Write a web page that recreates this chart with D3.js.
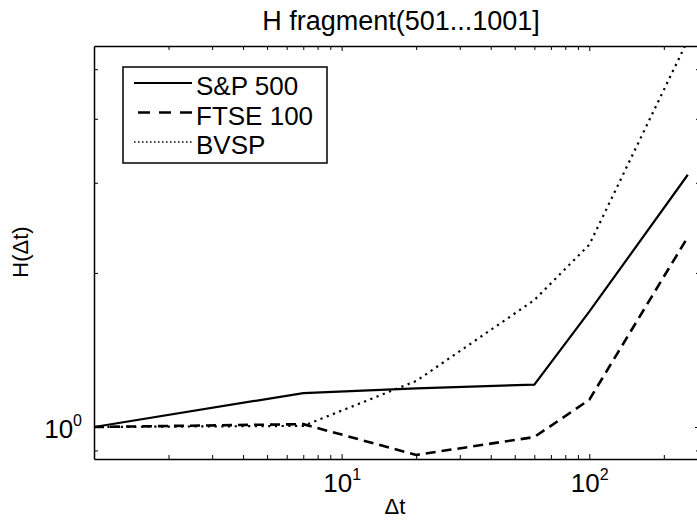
<!DOCTYPE html>
<html>
<head>
<meta charset="utf-8">
<script src="https://cdn.jsdelivr.net/npm/d3@7"></script>
<style>
  html, body { margin: 0; padding: 0; background: #fff; }
  svg { display: block; font-family: "Liberation Sans", Arial, Helvetica, sans-serif; }
</style>
</head>
<body>
<div id="chart"></div>
<script>
// lag values and Hurst-like ratio per index
const dt = [1, 7, 20, 60, 100, 250];
const sp500 = [1, 1.165, 1.19, 1.21, 1.68, 3.11];
const ftse100 = [1, 1.013, 0.882, 0.956, 1.13, 2.35];
const bvsp = [1, 1.005, 1.23, 1.77, 2.27, 5.7];
const seriesNames = ['S&P 500', 'FTSE 100', 'BVSP'];
const xTicks = [2, 3, 4, 5, 6, 7, 8, 9, 10, 20, 30, 40, 50, 60, 70, 80, 90, 100, 200];
const xLabels = { 10: '1', 100: '2' };
const yTicks = [0.9, 1, 2, 3, 4, 5];
const yLabels = { 1: '0' };
const title = 'H fragment(501...1001]';

const width = 697, height = 522;
const margin = { top: 46, right: -3, bottom: 63, left: 94 };
const innerW = width - margin.left - margin.right;
const innerH = height - margin.top - margin.bottom;

const svg = d3.select('#chart').append('svg').attr('width', width).attr('height', height);
const g = svg.append('g').attr('transform', `translate(${margin.left},${margin.top})`);

const x = d3.scaleLog().domain([1, 280]).range([0, innerW]);
const y = d3.scaleLog().domain([0.866, 5.55]).range([innerH, 0]);

g.append('clipPath').attr('id', 'clip').append('rect').attr('width', innerW).attr('height', innerH);

// series lines
const styles = [
  { data: sp500, dash: null, w: 2.2 },
  { data: ftse100, dash: '10,6', w: 2.6 },
  { data: bvsp, dash: '2.2,4.5', w: 2.2 }
];
const line = d3.line().x(d => x(d[0])).y(d => y(d[1]));
styles.forEach(s => {
  g.append('path')
    .datum(dt.map((t, i) => [t, s.data[i]]))
    .attr('clip-path', 'url(#clip)')
    .attr('fill', 'none').attr('stroke', '#000')
    .attr('stroke-width', s.w)
    .attr('stroke-dasharray', s.dash)
    .attr('d', line);
});

// axes, ticks inward on all four sides
const styleAxis = (sel, major, dir) => {
  sel.select('.domain').attr('stroke', '#000').attr('stroke-width', 1.5);
  sel.selectAll('.tick line').attr('stroke', '#000').attr('stroke-width', 1)
    .each(function (d) {
      const len = major[d] !== undefined ? 5 : 4;
      d3.select(this).attr(dir, this.getAttribute(dir) < 0 ? -len : len);
    });
  sel.selectAll('.tick text').remove();
};
const axB = g.append('g').attr('transform', `translate(0,${innerH})`)
  .call(d3.axisBottom(x).tickValues(xTicks).tickSize(-5).tickSizeOuter(0));
styleAxis(axB, xLabels, 'y2');
const axT = g.append('g')
  .call(d3.axisTop(x).tickValues(xTicks).tickSize(-5).tickSizeOuter(0));
styleAxis(axT, xLabels, 'y2');
const axL = g.append('g')
  .call(d3.axisLeft(y).tickValues(yTicks).tickSize(-5).tickSizeOuter(0));
styleAxis(axL, yLabels, 'x2');
const axR = g.append('g').attr('transform', `translate(${innerW},0)`)
  .call(d3.axisRight(y).tickValues(yTicks).tickSize(-5).tickSizeOuter(0));
styleAxis(axR, yLabels, 'x2');

// power-of-ten labels
const sup = (t, exp) => {
  t.append('tspan').text('10');
  t.append('tspan').attr('dy', -12).attr('font-size', 16).text(exp);
};
axB.selectAll('.tick').filter(d => xLabels[d] !== undefined)
  .append('text').attr('y', 33).attr('text-anchor', 'middle')
  .attr('font-size', 26).attr('fill', '#000')
  .each(function (d) { sup(d3.select(this), xLabels[d]); });
axL.selectAll('.tick').filter(d => yLabels[d] !== undefined)
  .append('text').attr('x', -12).attr('y', 10).attr('text-anchor', 'end')
  .attr('font-size', 26).attr('fill', '#000')
  .each(function (d) { sup(d3.select(this), yLabels[d]); });

// title and axis labels
svg.append('text').attr('x', 401).attr('y', 30).attr('text-anchor', 'middle')
  .attr('font-size', 27).text(title);
svg.append('text').attr('x', 395).attr('y', 514).attr('text-anchor', 'middle')
  .attr('font-size', 22).text('\u0394t');
svg.append('text').attr('transform', 'translate(28,252) rotate(-90)')
  .attr('text-anchor', 'middle').attr('font-size', 22).text('H(\u0394t)');

// legend
const lg = svg.append('g');
lg.append('rect').attr('x', 123).attr('y', 67).attr('width', 204).attr('height', 96)
  .attr('fill', '#fff').attr('stroke', '#000').attr('stroke-width', 1.5);
const legendLines = [
  { x1: 134, dash: null, w: 2.2 },
  { x1: 138, dash: '12,9', w: 2.6 },
  { x1: 134, dash: '1.5,2.5', w: 1.5 }
];
seriesNames.forEach((name, i) => {
  const yy = 83 + i * 29.5;
  lg.append('line').attr('x1', legendLines[i].x1).attr('x2', 192).attr('y1', yy).attr('y2', yy)
    .attr('stroke', '#000').attr('stroke-width', legendLines[i].w)
    .attr('stroke-dasharray', legendLines[i].dash);
  lg.append('text').attr('x', 196).attr('y', yy + 12).attr('font-size', 26).text(name);
});
</script>
</body>
</html>
